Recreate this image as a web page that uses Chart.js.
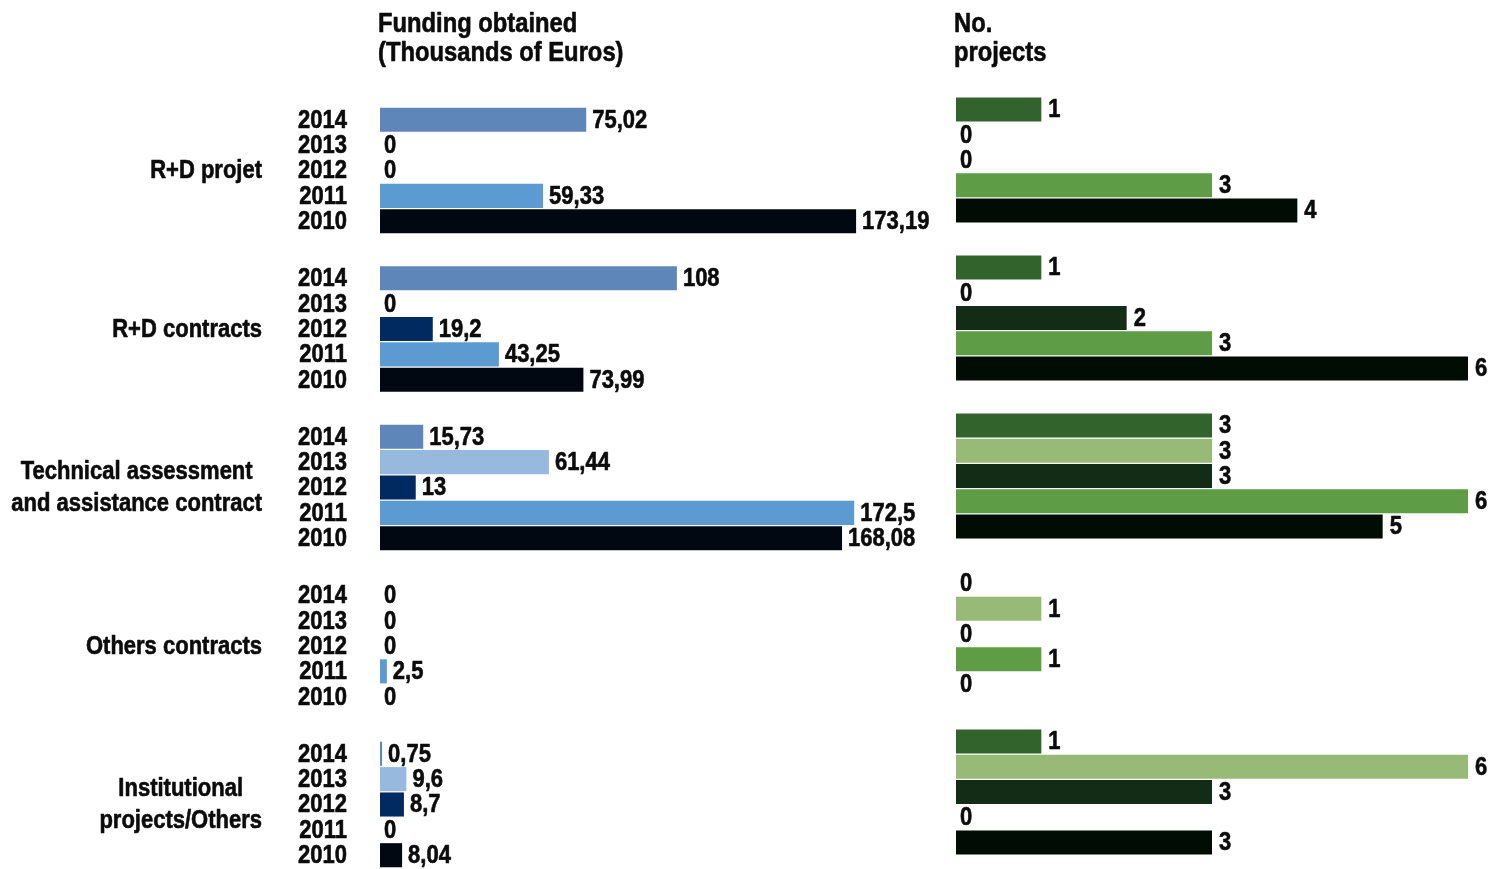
<!DOCTYPE html>
<html>
<head>
<meta charset="utf-8">
<script src="https://cdn.jsdelivr.net/npm/chart.js@4.4.1/dist/chart.umd.min.js"></script>
<style>
  html, body { margin: 0; padding: 0; background: #fff; width: 1505px; height: 869px; overflow: hidden; }
  .panel { position: absolute; top: 0; height: 869px; }
  #left { left: 0; width: 950px; }
  #right { left: 950px; width: 555px; }
</style>
</head>
<body>
<div class="panel" id="left"><canvas id="chartFunding"></canvas></div>
<div class="panel" id="right"><canvas id="chartProjects"></canvas></div>
<script>
const groups = [
  ["R+D projet"],
  ["R+D contracts"],
  ["Technical assessment", "and assistance contract"],
  ["Others contracts"],
  ["Institutional", "projects/Others"]
];
const years = ["2014", "2013", "2012", "2011", "2010"];

const funding2014 = [75.02, 108, 15.73, 0, 0.75];
const funding2013 = [0, 0, 61.44, 0, 9.6];
const funding2012 = [0, 19.2, 13, 0, 8.7];
const funding2011 = [59.33, 43.25, 172.5, 2.5, 0];
const funding2010 = [173.19, 73.99, 168.08, 0, 8.04];

const projects2014 = [1, 1, 3, 0, 1];
const projects2013 = [0, 0, 3, 1, 6];
const projects2012 = [0, 2, 3, 0, 3];
const projects2011 = [3, 3, 6, 1, 0];
const projects2010 = [4, 6, 5, 0, 3];

const fundingColors = ["#5f86b8", "#97b9dd", "#002a60", "#5b9bd1", "#020812"];
const projectColors = ["#33632c", "#97bb77", "#132c16", "#5e9c45", "#010d04"];

const FONT = "bold 25px 'Liberation Sans', Arial, sans-serif";
const TITLE_FONT = "bold 27px 'Liberation Sans', Arial, sans-serif";
const TEXT_COLOR = "#0b0b0b";
const SQUEEZE = 0.88; // no condensed face installed, so squeeze the text horizontally

function drawText(ctx, text, x, y) {
  ctx.save();
  ctx.translate(x, y);
  ctx.scale(SQUEEZE, 1);
  ctx.fillText(text, 0, 0);
  ctx.strokeText(text, 0, 0); // a little heavier, like the original face
  ctx.restore();
}

// draws value labels, year labels, group names and the panel title
const textPlugin = {
  id: "barText",
  afterDatasetsDraw(chart, args, opts) {
    const ctx = chart.ctx;
    ctx.save();
    ctx.font = FONT;
    ctx.fillStyle = TEXT_COLOR;
    ctx.strokeStyle = TEXT_COLOR;
    ctx.lineWidth = 0.6;
    ctx.lineJoin = "round";
    ctx.textBaseline = "middle";

    chart.data.datasets.forEach((ds, i) => {
      chart.getDatasetMeta(i).data.forEach((bar, j) => {
        const v = ds.data[j];
        ctx.textAlign = "left";
        const x = v > 0 ? bar.x + opts.gap : bar.base + opts.zeroGap;
        drawText(ctx, String(v).replace(".", ","), x, bar.y + 1);
        if (opts.yearX) {
          ctx.textAlign = "right";
          drawText(ctx, years[i], opts.yearX, bar.y + 1);
        }
      });
    });

    if (opts.groupX) {
      const yScale = chart.scales.y;
      ctx.textAlign = "center";
      groups.forEach((lines, j) => {
        const w = Math.max(...lines.map(l => ctx.measureText(l).width)) * SQUEEZE;
        const cx = opts.groupX - w / 2;
        const cy = yScale.getPixelForValue(j);
        lines.forEach((l, k) => {
          drawText(ctx, l, cx, cy + 1 + (k - (lines.length - 1) / 2) * 32);
        });
      });
    }

    ctx.font = TITLE_FONT;
    ctx.textAlign = "left";
    opts.title.forEach((l, k) => {
      drawText(ctx, l, opts.titleX, 25 + k * 29);
    });
    ctx.restore();
  }
};

function makeDatasets(series, colors) {
  return series.map((data, i) => ({
    label: years[i],
    data,
    backgroundColor: colors[i],
    borderWidth: 0,
    categoryPercentage: 0.8,
    barPercentage: 0.95,
    clip: false
  }));
}

function makeChart(id, series, colors, xMax, padding, textOpts) {
  return new Chart(document.getElementById(id), {
    type: "bar",
    data: { labels: groups, datasets: makeDatasets(series, colors) },
    plugins: [textPlugin],
    options: {
      indexAxis: "y",
      responsive: true,
      maintainAspectRatio: false,
      devicePixelRatio: 1,
      animation: false,
      layout: { padding },
      plugins: {
        legend: { display: false },
        tooltip: { enabled: false },
        barText: textOpts
      },
      scales: {
        x: { display: false, min: 0, max: xMax },
        y: { display: false, offset: false }
      }
    }
  });
}

makeChart(
  "chartFunding",
  [funding2014, funding2013, funding2012, funding2011, funding2010],
  fundingColors,
  200,
  { left: 380, top: 170.5, bottom: 64.5, right: 20.2 },
  { gap: 6, zeroGap: 4, yearX: 347, groupX: 262, titleX: 378, title: ["Funding obtained", "(Thousands of Euros)"] }
);

makeChart(
  "chartProjects",
  [projects2014, projects2013, projects2012, projects2011, projects2010],
  projectColors,
  6,
  { left: 6, top: 160, bottom: 77, right: 37 },
  { gap: 7, zeroGap: 4, titleX: 4, title: ["No.", "projects"] }
);
</script>
</body>
</html>
